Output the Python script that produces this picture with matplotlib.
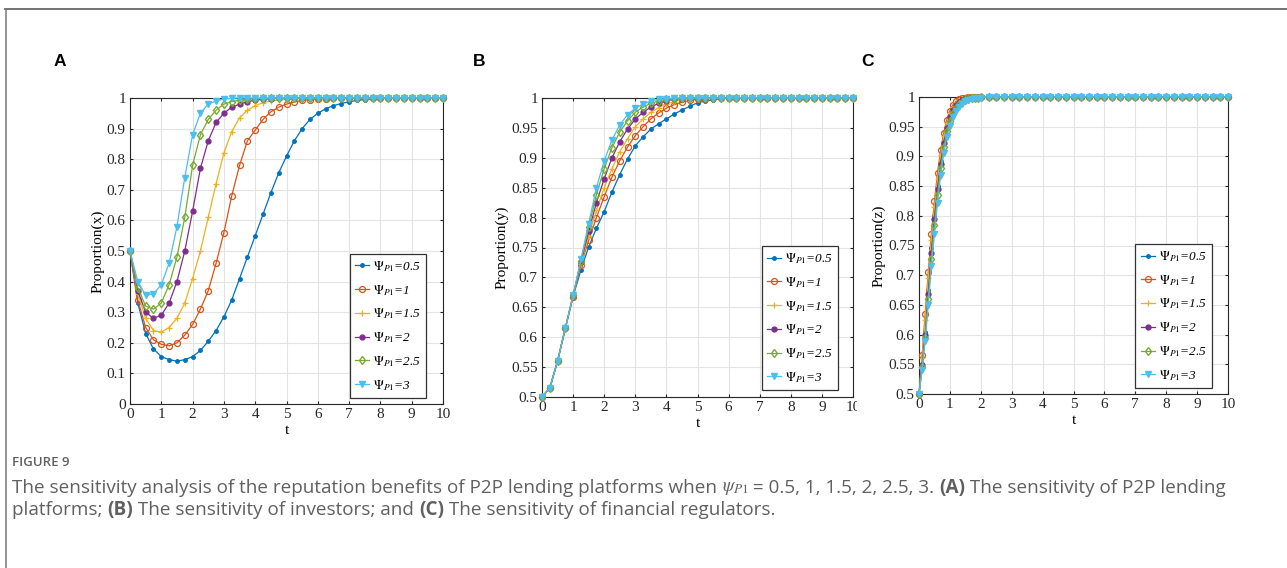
import numpy as np
import matplotlib

matplotlib.use("Agg")
import matplotlib.pyplot as plt
from matplotlib.lines import Line2D
from matplotlib.transforms import Bbox

plt.rcParams["font.family"] = "Liberation Serif"
plt.rcParams["mathtext.fontset"] = "stix"
plt.rcParams["axes.linewidth"] = 0.8
plt.rcParams["axes.edgecolor"] = "#262626"
plt.rcParams["xtick.color"] = "#262626"
plt.rcParams["ytick.color"] = "#262626"

# time grids of the replicator-dynamics runs
t = np.linspace(0, 10, 41)
t_z = np.concatenate([np.linspace(0, 2, 21), np.linspace(2.25, 10, 32)])

psi_values = ["0.5", "1", "1.5", "2", "2.5", "3"]

# proportion of P2P platforms choosing compliance, x(t)
x_05 = [0.5, 0.33, 0.23, 0.18, 0.155, 0.145, 0.14, 0.145, 0.155, 0.175,
        0.205, 0.24, 0.285, 0.34, 0.41, 0.48, 0.55, 0.62, 0.69, 0.755,
        0.81, 0.86, 0.90, 0.93, 0.95, 0.965, 0.975, 0.982, 0.988, 0.992,
        0.995, 0.997, 0.998, 0.999, 0.999, 1, 1, 1, 1, 1, 1]
x_1 = [0.5, 0.34, 0.25, 0.21, 0.195, 0.19, 0.2, 0.225, 0.26, 0.31,
       0.37, 0.46, 0.56, 0.68, 0.78, 0.86, 0.895, 0.93, 0.955, 0.97,
       0.98, 0.987, 0.992, 0.995, 0.997, 0.998, 0.999, 0.999, 1, 1,
       1, 1, 1, 1, 1, 1, 1, 1, 1, 1, 1]
x_15 = [0.5, 0.36, 0.28, 0.24, 0.235, 0.25, 0.28, 0.33, 0.41, 0.5,
        0.61, 0.72, 0.82, 0.89, 0.935, 0.96, 0.975, 0.985, 0.99, 0.994,
        0.997, 0.998, 0.999, 0.999, 1, 1, 1, 1, 1, 1,
        1, 1, 1, 1, 1, 1, 1, 1, 1, 1, 1]
x_2 = [0.5, 0.37, 0.30, 0.28, 0.29, 0.33, 0.40, 0.50, 0.63, 0.77,
       0.86, 0.92, 0.95, 0.97, 0.98, 0.988, 0.993, 0.996, 0.998, 0.999,
       1, 1, 1, 1, 1, 1, 1, 1, 1, 1,
       1, 1, 1, 1, 1, 1, 1, 1, 1, 1, 1]
x_25 = [0.5, 0.38, 0.32, 0.31, 0.33, 0.39, 0.48, 0.61, 0.78, 0.88,
        0.93, 0.96, 0.98, 0.988, 0.993, 0.996, 0.998, 0.999, 1, 1,
        1, 1, 1, 1, 1, 1, 1, 1, 1, 1,
        1, 1, 1, 1, 1, 1, 1, 1, 1, 1, 1]
x_3 = [0.5, 0.40, 0.355, 0.36, 0.39, 0.46, 0.58, 0.74, 0.88, 0.95,
       0.98, 0.99, 0.997, 0.999, 1, 1, 1, 1, 1, 1,
       1, 1, 1, 1, 1, 1, 1, 1, 1, 1,
       1, 1, 1, 1, 1, 1, 1, 1, 1, 1, 1]

# proportion of investors choosing to invest, y(t)
y_05 = [0.5, 0.515, 0.56, 0.615, 0.668, 0.712, 0.751, 0.782, 0.81, 0.843,
        0.872, 0.898, 0.92, 0.935, 0.948, 0.957, 0.965, 0.973, 0.98, 0.986,
        0.992, 0.995, 0.997, 0.999, 1, 1, 1, 1, 1, 1,
        1, 1, 1, 1, 1, 1, 1, 1, 1, 1, 1]
y_1 = [0.5, 0.515, 0.56, 0.615, 0.668, 0.72, 0.762, 0.8, 0.835, 0.868,
       0.895, 0.918, 0.937, 0.952, 0.965, 0.975, 0.983, 0.989, 0.993, 0.996,
       0.998, 0.999, 1, 1, 1, 1, 1, 1, 1, 1,
       1, 1, 1, 1, 1, 1, 1, 1, 1, 1, 1]
y_15 = [0.5, 0.515, 0.56, 0.615, 0.669, 0.722, 0.77, 0.812, 0.85, 0.882,
        0.91, 0.932, 0.952, 0.965, 0.976, 0.984, 0.99, 0.994, 0.997, 0.999,
        1, 1, 1, 1, 1, 1, 1, 1, 1, 1,
        1, 1, 1, 1, 1, 1, 1, 1, 1, 1, 1]
y_2 = [0.5, 0.515, 0.56, 0.615, 0.67, 0.725, 0.777, 0.825, 0.865, 0.9,
       0.927, 0.948, 0.965, 0.976, 0.985, 0.991, 0.995, 0.998, 0.999, 1,
       1, 1, 1, 1, 1, 1, 1, 1, 1, 1,
       1, 1, 1, 1, 1, 1, 1, 1, 1, 1, 1]
y_25 = [0.5, 0.515, 0.56, 0.615, 0.67, 0.728, 0.784, 0.838, 0.882, 0.917,
        0.943, 0.962, 0.976, 0.985, 0.991, 0.995, 0.998, 0.999, 1, 1,
        1, 1, 1, 1, 1, 1, 1, 1, 1, 1,
        1, 1, 1, 1, 1, 1, 1, 1, 1, 1, 1]
y_3 = [0.5, 0.515, 0.56, 0.615, 0.67, 0.73, 0.79, 0.85, 0.895, 0.93,
       0.955, 0.972, 0.983, 0.99, 0.995, 0.998, 0.999, 1, 1, 1,
       1, 1, 1, 1, 1, 1, 1, 1, 1, 1,
       1, 1, 1, 1, 1, 1, 1, 1, 1, 1, 1]

# proportion of regulators choosing strict supervision, z(t)
z_05 = [0.5, 0.55, 0.605, 0.675, 0.745, 0.8, 0.85, 0.893, 0.928, 0.952,
        0.97, 0.98, 0.988, 0.993, 0.996, 0.998, 0.999, 1, 1, 1,
        1, 1, 1, 1, 1, 1, 1, 1, 1, 1,
        1, 1, 1, 1, 1, 1, 1, 1, 1, 1,
        1, 1, 1, 1, 1, 1, 1, 1, 1, 1, 1, 1, 1]
z_1 = [0.5, 0.565, 0.635, 0.705, 0.77, 0.825, 0.872, 0.91, 0.94, 0.962,
       0.977, 0.987, 0.993, 0.996, 0.998, 0.999, 1, 1, 1, 1,
       1, 1, 1, 1, 1, 1, 1, 1, 1, 1,
       1, 1, 1, 1, 1, 1, 1, 1, 1, 1,
       1, 1, 1, 1, 1, 1, 1, 1, 1, 1, 1, 1, 1]
z_15 = [0.5, 0.56, 0.625, 0.695, 0.76, 0.815, 0.862, 0.902, 0.934, 0.957,
        0.973, 0.984, 0.991, 0.995, 0.997, 0.999, 1, 1, 1, 1,
        1, 1, 1, 1, 1, 1, 1, 1, 1, 1,
        1, 1, 1, 1, 1, 1, 1, 1, 1, 1,
        1, 1, 1, 1, 1, 1, 1, 1, 1, 1, 1, 1, 1]
z_2 = [0.5, 0.548, 0.6, 0.668, 0.738, 0.795, 0.845, 0.888, 0.922, 0.948,
       0.966, 0.978, 0.986, 0.991, 0.995, 0.997, 0.998, 0.999, 1, 1,
       1, 1, 1, 1, 1, 1, 1, 1, 1, 1,
       1, 1, 1, 1, 1, 1, 1, 1, 1, 1,
       1, 1, 1, 1, 1, 1, 1, 1, 1, 1, 1, 1, 1]
z_25 = [0.5, 0.545, 0.595, 0.66, 0.728, 0.785, 0.835, 0.88, 0.915, 0.942,
        0.96, 0.973, 0.982, 0.988, 0.992, 0.995, 0.997, 0.998, 0.999, 0.999,
        1, 1, 1, 1, 1, 1, 1, 1, 1, 1,
        1, 1, 1, 1, 1, 1, 1, 1, 1, 1,
        1, 1, 1, 1, 1, 1, 1, 1, 1, 1, 1, 1, 1]
z_3 = [0.5, 0.54, 0.59, 0.65, 0.715, 0.77, 0.822, 0.868, 0.905, 0.933,
       0.952, 0.966, 0.977, 0.984, 0.989, 0.993, 0.995, 0.997, 0.998, 0.999,
       0.999, 1, 1, 1, 1, 1, 1, 1, 1, 1,
       1, 1, 1, 1, 1, 1, 1, 1, 1, 1,
       1, 1, 1, 1, 1, 1, 1, 1, 1, 1, 1, 1, 1]

# MATLAB default line colours and the marker of each curve
colors = ["#0072BD", "#D95319", "#EDB120", "#7E2F8E", "#77AC30", "#4DBEEE"]
marker_styles = [
    dict(marker=".", ms=5),
    dict(marker="o", ms=4.3, mfc="none", mew=0.9),
    dict(marker="+", ms=4.8, mew=0.9),
    dict(marker="o", ms=3.5),
    dict(marker="d", ms=4.5, mfc="none", mew=1.0),
    dict(marker="v", ms=4.5),
]

fig = plt.figure(figsize=(12.87, 5.68), dpi=100)
W, H = 1287, 568


def px_axes(left, top, right, bottom):
    return fig.add_axes([left / W, 1 - bottom / H, (right - left) / W, (bottom - top) / H])


def draw_panel(ax, tt, series, yticks, ylabels, ylabel, legend_anchor):
    ax.grid(True, color="#e3e3e3", linewidth=0.8)
    ax.set_axisbelow(True)
    for vals, psi, col, mk in zip(series, psi_values, colors, marker_styles):
        ax.plot(tt, vals, color=col, lw=0.9, clip_on=False, zorder=3,
                label=r"$\mathit{\Psi}_{\mathit{P1}}$=" + psi, **mk)
    ax.set_xlim(0, 10)
    ax.set_ylim(yticks[0], yticks[-1])
    ax.set_xticks(range(11))
    ax.set_yticks(yticks)
    ax.set_yticklabels(ylabels)
    ax.tick_params(direction="in", length=2.5, width=0.8, top=True, right=True,
                   labelsize=11, pad=3)
    ax.set_xlabel("t", fontsize=11, labelpad=2)
    ax.set_ylabel(ylabel, fontsize=11, labelpad=2)
    leg = ax.legend(loc="lower right", bbox_to_anchor=legend_anchor, borderaxespad=0,
                    prop={"family": "Liberation Serif", "style": "italic", "size": 9.5},
                    handlelength=1.1, handletextpad=0.25,
                    labelspacing=0.68, borderpad=0.4, fancybox=False,
                    framealpha=1, edgecolor="#333333")
    leg.get_frame().set_linewidth(0.9)
    return ax


ax_a = px_axes(130, 98, 443, 404)
draw_panel(ax_a, t, [x_05, x_1, x_15, x_2, x_25, x_3],
           [i / 10 for i in range(11)],
           ["0"] + [f"0.{i}" for i in range(1, 10)] + ["1"],
           "Proportion(x)", (0.946, 0.02))

ticks_half = [0.5 + i * 0.05 for i in range(11)]
labels_half = ["0.5", "0.55", "0.6", "0.65", "0.7", "0.75", "0.8", "0.85", "0.9", "0.95", "1"]

ax_b = px_axes(542, 98, 853, 397)
draw_panel(ax_b, t, [y_05, y_1, y_15, y_2, y_25, y_3],
           ticks_half, labels_half, "Proportion(y)", (0.952, 0.023))

ax_c = px_axes(919, 97, 1228, 394)
draw_panel(ax_c, t_z, [z_05, z_1, z_15, z_2, z_25, z_3],
           ticks_half, labels_half, "Proportion(z)", (0.948, 0.02))

# the "10" under panel B is cut by the edge of panel C
last = ax_b.xaxis.get_major_ticks()[-1].label1
last.set_clip_box(Bbox([[0, 0], [857, H]]))
last.set_clip_on(True)

for letter, xpx in [("A", 60), ("B", 479), ("C", 868)]:
    fig.text(xpx / W, 1 - 61 / H, letter, fontsize=12.5, fontweight="bold",
             family="Liberation Sans", ha="center", va="center")

# page frame
fig.add_artist(Line2D([5 / W, 1], [1 - 8.5 / H] * 2, color="#666666", lw=1.3))
fig.add_artist(Line2D([5.5 / W] * 2, [0, 1 - 8.5 / H], color="#777777", lw=1.1))

# caption
cap_color = "#606060"
fig.text(12 / W, 1 - 462 / H, "FIGURE 9", family="Open Sans", fontsize=9.5,
         fontweight="semibold", color=cap_color, va="center")

renderer = fig.canvas.get_renderer()


def text_runs(x_px, y_px, runs):
    for s, weight in runs:
        txt = fig.text(x_px / W, 1 - y_px / H, s, family="Open Sans", fontsize=13.6,
                       fontweight=weight, color=cap_color, va="center")
        x_px = txt.get_window_extent(renderer).x1


text_runs(12, 488, [
    ("The sensitivity analysis of the reputation benefits of P2P lending platforms when ", "normal"),
    (r"$\psi_{P1}$", "normal"),
    (" = 0.5, 1, 1.5, 2, 2.5, 3. ", "normal"),
    ("(A)", "bold"),
    (" The sensitivity of P2P lending", "normal"),
])
text_runs(12, 510, [
    ("platforms; ", "normal"),
    ("(B)", "bold"),
    (" The sensitivity of investors; and ", "normal"),
    ("(C)", "bold"),
    (" The sensitivity of financial regulators.", "normal"),
])

fig.savefig("out.png", dpi=100)
